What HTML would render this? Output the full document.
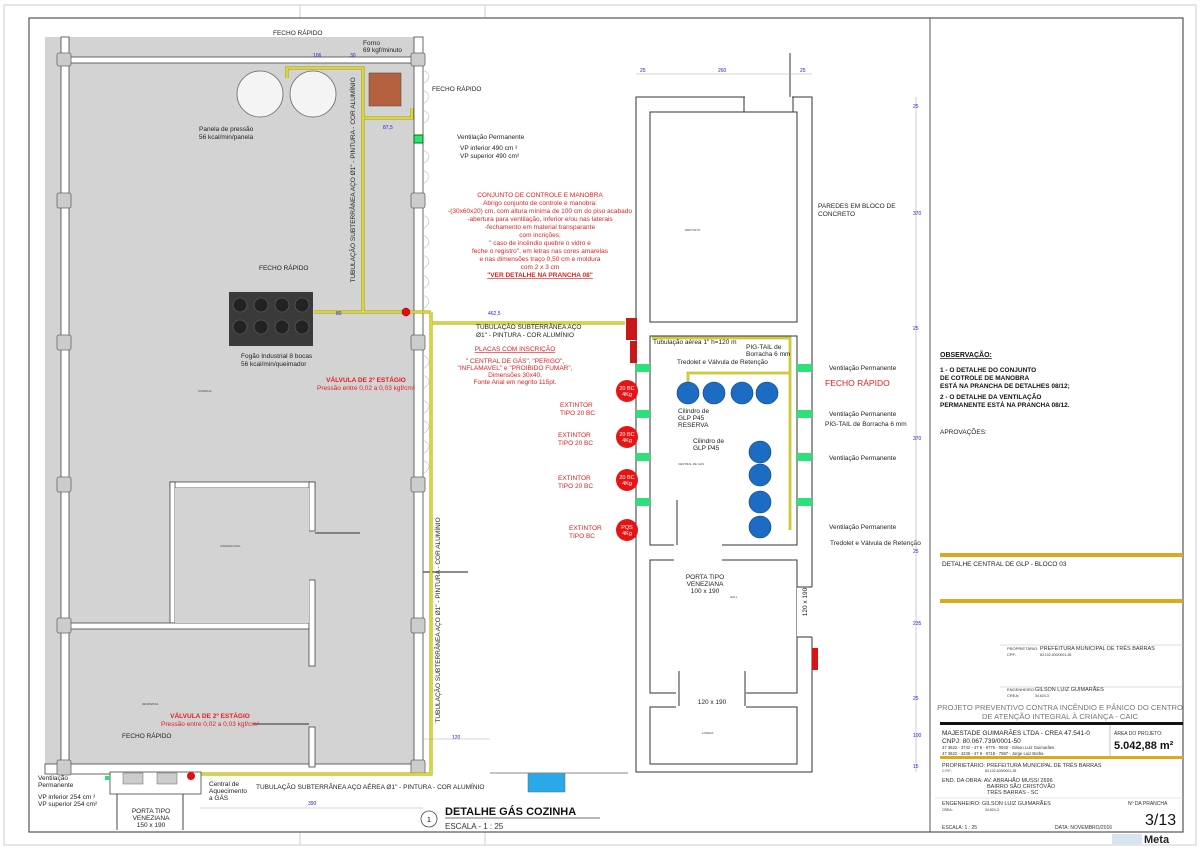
<!DOCTYPE html>
<html><head><meta charset="utf-8"><style>
html,body{margin:0;padding:0;background:#fff;}
svg{display:block;font-family:"Liberation Sans",sans-serif;}
.s{font-size:6.5px;fill:#222}
.r{font-size:6.5px;fill:#e02020}
.b{font-size:5px;fill:#2020d0}
</style></head><body>
<svg width="1200" height="850" viewBox="0 0 1200 850" xmlns="http://www.w3.org/2000/svg">
<rect width="1200" height="850" fill="#fff"/>
<rect x="4" y="5" width="1192" height="840" fill="none" stroke="#ccc" stroke-width="1"/>
<line x1="300" y1="5" x2="300" y2="18" stroke="#ccc"/><line x1="485" y1="5" x2="485" y2="18" stroke="#ccc"/>
<line x1="300" y1="832" x2="300" y2="845" stroke="#ccc"/><line x1="485" y1="832" x2="485" y2="845" stroke="#ccc"/>
<rect x="29" y="18" width="1154" height="814" fill="none" stroke="#555" stroke-width="1.2"/>
<line x1="930" y1="18" x2="930" y2="832" stroke="#555" stroke-width="1"/>

<rect x="45" y="37" width="369" height="731" fill="#d3d3d3"/>
<g fill="#fff" stroke="#444" stroke-width="0.8">
<rect x="61" y="37" width="8" height="737"/>
<rect x="414" y="37" width="9" height="737"/>
<rect x="61" y="57" width="362" height="6"/>
<rect x="45" y="764" width="378" height="10"/>
<rect x="170" y="482" width="145" height="6"/>
<rect x="170" y="482" width="5" height="141"/>
<rect x="69" y="623" width="240" height="6"/>
<rect x="309" y="482" width="6" height="49"/>
<rect x="309" y="580" width="6" height="86"/>
<rect x="309" y="727" width="6" height="40"/>
</g>
<rect x="175" y="488" width="134" height="135" fill="#d3d3d3"/>
<line x1="315" y1="533" x2="360" y2="533" stroke="#666" stroke-width="1.5"/>
<line x1="423" y1="572" x2="468" y2="572" stroke="#666" stroke-width="1.5"/>
<line x1="253" y1="724" x2="309" y2="724" stroke="#666" stroke-width="1.5"/>
<g fill="none" stroke="#bbb" stroke-width="0.6">
<path d="M423 70 q12 6 0 14"/><path d="M423 90 q12 6 0 14"/><path d="M423 110 q12 6 0 14"/><path d="M423 150 q12 6 0 14"/><path d="M423 170 q12 6 0 14"/><path d="M423 215 q12 6 0 14"/><path d="M423 235 q12 6 0 14"/><path d="M423 255 q12 6 0 14"/><path d="M423 275 q12 6 0 14"/><path d="M423 295 q12 6 0 14"/><path d="M423 355 q12 6 0 14"/><path d="M423 375 q12 6 0 14"/><path d="M423 400 q12 6 0 14"/><path d="M423 420 q12 6 0 14"/><path d="M423 440 q12 6 0 14"/><path d="M423 460 q12 6 0 14"/>
</g>
<g fill="#ccc" stroke="#666" stroke-width="0.8">
<rect x="57" y="53" width="14" height="13" rx="2"/><rect x="411" y="53" width="14" height="13" rx="2"/>
<rect x="57" y="193" width="14" height="15" rx="2"/><rect x="411" y="193" width="14" height="15" rx="2"/>
<rect x="57" y="335" width="14" height="15" rx="2"/><rect x="411" y="335" width="14" height="15" rx="2"/>
<rect x="57" y="477" width="14" height="15" rx="2"/><rect x="411" y="477" width="14" height="15" rx="2"/>
<rect x="57" y="618" width="14" height="15" rx="2"/><rect x="411" y="618" width="14" height="15" rx="2"/>
<rect x="57" y="760" width="14" height="15" rx="2"/><rect x="411" y="760" width="14" height="15" rx="2"/>
</g>
<circle cx="260" cy="94" r="23" fill="#f4f4f4" stroke="#666" stroke-width="0.8"/>
<circle cx="313" cy="94" r="23" fill="#f4f4f4" stroke="#666" stroke-width="0.8"/>
<rect x="369" y="73" width="32" height="33" fill="#b5603e" stroke="#555" stroke-width="0.6"/>
<rect x="229" y="292" width="84" height="54" fill="#3a3a3a"/>
<g fill="#222" stroke="#666" stroke-width="0.6">
<circle cx="240" cy="305" r="7"/><circle cx="261" cy="305" r="7"/><circle cx="282" cy="305" r="7"/><circle cx="302" cy="305" r="7"/>
<circle cx="240" cy="327" r="7"/><circle cx="261" cy="327" r="7"/><circle cx="282" cy="327" r="7"/><circle cx="302" cy="327" r="7"/>
</g>
<g fill="none" stroke="#a5a000" stroke-width="3">
<polyline points="287,78 287,68 363,68 363,312"/>
<polyline points="363,118 412,118 412,108"/>
<polyline points="314,312 431,312"/>
<polyline points="431,312 431,774 200,774"/>
<polyline points="431,323 625,323"/>
</g>
<g fill="none" stroke="#e8e84a" stroke-width="1.5">
<polyline points="287,78 287,68 363,68 363,312"/>
<polyline points="363,118 412,118 412,108"/>
<polyline points="314,312 431,312"/>
<polyline points="431,312 431,774 200,774"/>
<polyline points="431,323 625,323"/>
</g>
<circle cx="406" cy="312" r="4" fill="#e01010" stroke="#800" stroke-width="0.5"/>
<rect x="414" y="135" width="9" height="8" fill="#2ee07a" stroke="#070"/>
<rect x="110" y="772" width="91" height="22" fill="#fff" stroke="#444" stroke-width="0.8"/>
<rect x="123" y="773" width="20" height="11" fill="#ccc" stroke="#666" stroke-width="0.5"/>
<rect x="157" y="773" width="20" height="11" fill="#ccc" stroke="#666" stroke-width="0.5"/>
<circle cx="191" cy="776" r="4" fill="#e01010"/>
<rect x="105" y="776" width="5" height="4" fill="#2ee07a"/>
<line x1="117" y1="794" x2="117" y2="830" stroke="#444"/><line x1="183" y1="794" x2="183" y2="830" stroke="#444"/>
<rect x="528" y="773" width="37" height="19" fill="#29a9e8" stroke="#666" stroke-width="0.5"/>
<line x1="490" y1="773" x2="628" y2="773" stroke="#888"/>

<text x="273" y="35" class="s">FECHO RÁPIDO</text>
<text x="363" y="45" class="s">Forno</text><text x="363" y="52" class="s">69 kgf/minuto</text>
<text x="432" y="91" class="s">FECHO RÁPIDO</text>
<text x="199" y="131" class="s">Panela de pressão</text><text x="199" y="139" class="s">56 kcal/min/panela</text>
<text x="457" y="139" class="s">Ventilação Permanente</text>
<text x="460" y="150" class="s">VP inferior 490 cm ²</text><text x="460" y="158" class="s">VP superior 490 cm²</text>
<text x="259" y="270" class="s">FECHO RÁPIDO</text>
<text x="241" y="358" class="s">Fogão Industrial 8 bocas</text><text x="241" y="366" class="s">56 kcal/min/queimador</text>
<text x="366" y="382" class="r" text-anchor="middle" font-weight="bold">VÁLVULA DE  2º ESTÁGIO</text>
<text x="366" y="390" class="r" text-anchor="middle">Pressão entre 0,02 a 0,03 kgf/cm²</text>
<text x="210" y="718" class="r" text-anchor="middle" font-weight="bold">VÁLVULA DE  2º ESTÁGIO</text>
<text x="210" y="726" class="r" text-anchor="middle">Pressão entre 0,02 a 0,03 kgf/cm²</text>
<text x="122" y="738" class="s">FECHO RÁPIDO</text>
<text x="38" y="780" class="s">Ventilação</text><text x="38" y="787" class="s">Permanente</text>
<text x="38" y="799" class="s">VP inferior 254 cm ²</text><text x="38" y="806" class="s">VP superior 254 cm²</text>
<text x="209" y="786" class="s">Central de</text><text x="209" y="793" class="s">Aquecimento</text><text x="209" y="800" class="s">a GÁS</text>
<text x="256" y="789" class="s">TUBULAÇÃO SUBTERRÂNEA AÇO  AÉREA Ø1" - PINTURA - COR ALUMÍNIO</text>
<text x="151" y="813" class="s" text-anchor="middle">PORTA TIPO</text><text x="151" y="820" class="s" text-anchor="middle">VENEZIANA</text><text x="151" y="827" class="s" text-anchor="middle">150 x 190</text>
<text x="355" y="180" class="s" transform="rotate(-90 355 180)" text-anchor="middle">TUBULAÇÃO SUBTERRÂNEA AÇO   Ø1" - PINTURA - COR ALUMÍNIO</text>
<text x="440" y="620" class="s" transform="rotate(-90 440 620)" text-anchor="middle">TUBULAÇÃO SUBTERRÂNEA AÇO   Ø1" - PINTURA - COR ALUMÍNIO</text>
<text x="198" y="392" font-size="3" fill="#444">COZINHA</text>
<text x="220" y="547" font-size="3" fill="#444">CÂMARA FRIA</text>
<text x="142" y="705" font-size="3" fill="#444">DESPENSA</text>
<text x="313" y="57" class="b">106</text><text x="350" y="57" class="b">30</text><text x="383" y="129" class="b">87,5</text>
<text x="336" y="315" class="b">80</text><text x="488" y="315" class="b">462,5</text><text x="452" y="739" class="b">120</text><text x="308" y="805" class="b">390</text>
<line x1="200" y1="808" x2="423" y2="808" stroke="#aab" stroke-width="0.5"/>
<line x1="423" y1="739" x2="490" y2="739" stroke="#aab" stroke-width="0.5"/>
<circle cx="429" cy="819" r="8" fill="#fff" stroke="#444" stroke-width="0.8"/>
<text x="429" y="822" font-size="7" text-anchor="middle">1</text>
<text x="445" y="815" font-size="11" font-weight="bold" fill="#111">DETALHE GÁS  COZINHA</text>
<line x1="445" y1="818" x2="600" y2="818" stroke="#444" stroke-width="0.7"/>
<text x="445" y="829" font-size="8" fill="#333">ESCALA - 1 : 25</text>

<g text-anchor="middle">
<text x="540" y="197" class="r">CONJUNTO DE CONTROLE E MANOBRA</text>
<text x="540" y="205" class="r">Abrigo conjunto de controle e manobra:</text>
<text x="540" y="213" class="r">-(30x60x20) cm, com altura mínima de 100 cm do piso acabado</text>
<text x="540" y="221" class="r">-abertura para ventilação, inferior e/ou nas laterais</text>
<text x="540" y="229" class="r">-fechamento em material transparante</text>
<text x="540" y="237" class="r">com incrições:</text>
<text x="540" y="245" class="r">" caso de incêndio quebre o vidro e</text>
<text x="540" y="253" class="r">feche o registro", em letras nas cores amarelas</text>
<text x="540" y="261" class="r">e nas dimensões traço 0,50 cm e moldura</text>
<text x="540" y="269" class="r">com 2 x 3 cm</text>
<text x="540" y="277" class="r" font-weight="bold" text-decoration="underline">"VER DETALHE NA PRANCHA 08"</text>
</g>
<text x="476" y="329" class="s">TUBULAÇÃO SUBTERRÂNEA AÇO</text>
<text x="476" y="337" class="s">Ø1" - PINTURA - COR ALUMÍNIO</text>
<g text-anchor="middle">
<text x="515" y="351" class="r" text-decoration="underline">PLACAS COM INSCRIÇÃO</text>
<text x="515" y="363" class="r">" CENTRAL DE GÁS", "PERIGO",</text>
<text x="515" y="370" class="r">"INFLAMAVEL" e "PROIBIDO FUMAR",</text>
<text x="515" y="377" class="r">Dimensões 30x40,</text>
<text x="515" y="384" class="r">Fonte Arial em negrito 115pt.</text>
<text x="714" y="625" class="r" text-decoration="underline">PLACAS COM INSCRIÇÃO</text>
<text x="714" y="638" class="r">" CENTRAL DE GÁS", "PERIGO",</text>
<text x="714" y="645" class="r">"INFLAMAVEL" e "PROIBIDO FUMAR",</text>
<text x="714" y="652" class="r">Dimensões 30x40,</text>
<text x="714" y="659" class="r">Fonte Arial em negrito 115pt.</text>
</g>
<text x="560" y="407" class="r">EXTINTOR</text><text x="560" y="415" class="r">TIPO 20 BC</text>
<text x="558" y="437" class="r">EXTINTOR</text><text x="558" y="445" class="r">TIPO  20 BC</text>
<text x="558" y="480" class="r">EXTINTOR</text><text x="558" y="488" class="r">TIPO  20 BC</text>
<text x="569" y="530" class="r">EXTINTOR</text><text x="569" y="538" class="r">TIPO BC</text>

<rect x="636" y="97" width="176" height="675" fill="#fff" stroke="#333" stroke-width="1"/>
<g fill="#fff" stroke="#333" stroke-width="1">
<rect x="650" y="112" width="147" height="210"/>
<rect x="650" y="336" width="147" height="209"/>
<rect x="650" y="560" width="147" height="133"/>
<rect x="650" y="707" width="147" height="57"/>
</g>
<rect x="745" y="95" width="47" height="16.5" fill="#fff"/>
<line x1="744" y1="97" x2="744" y2="112" stroke="#333"/><line x1="793" y1="97" x2="793" y2="112" stroke="#333"/>
<line x1="790" y1="53" x2="790" y2="97" stroke="#555" stroke-width="1.2"/>
<rect x="797" y="587" width="16" height="50" fill="#fff"/>
<line x1="797" y1="587" x2="812" y2="587" stroke="#333"/><line x1="797" y1="637" x2="812" y2="637" stroke="#333"/>
<rect x="674" y="544" width="48" height="17" fill="#fff"/>
<rect x="676" y="692" width="70" height="16" fill="#fff"/>
<line x1="679" y1="671" x2="679" y2="706" stroke="#555" stroke-width="1.2"/><line x1="745" y1="671" x2="745" y2="706" stroke="#555" stroke-width="1.2"/>
<line x1="677" y1="500" x2="677" y2="545" stroke="#555" stroke-width="1.2"/>
<rect x="812" y="648" width="6" height="22" fill="#d11"/>
<rect x="626" y="318" width="11" height="22" fill="#c81818"/>
<rect x="630" y="341" width="7" height="22" fill="#c81818"/>
<g fill="#2ee07a">
<rect x="636" y="364" width="14" height="8"/><rect x="636" y="410" width="14" height="8"/><rect x="636" y="453" width="14" height="8"/><rect x="636" y="498" width="14" height="8"/>
<rect x="797" y="364" width="15" height="8"/><rect x="797" y="410" width="15" height="8"/><rect x="797" y="453" width="15" height="8"/><rect x="797" y="498" width="15" height="8"/>
</g>
<g fill="#e81414"><circle cx="627" cy="391" r="11"/><circle cx="627" cy="437" r="11"/><circle cx="627" cy="480" r="11"/><circle cx="627" cy="530" r="11"/></g>
<g fill="#fff" font-size="5.5" text-anchor="middle">
<text x="627" y="390">20 BC</text><text x="627" y="396">4Kg</text>
<text x="627" y="436">20 BC</text><text x="627" y="442">4Kg</text>
<text x="627" y="479">20 BC</text><text x="627" y="485">4Kg</text>
<text x="627" y="529">PQS</text><text x="627" y="535">4Kg</text>
</g>
<g fill="none" stroke="#a5a000" stroke-width="2.5"><polyline points="652,338 790,338 790,530"/><polyline points="688,387 688,373 790,373"/></g>
<g fill="none" stroke="#e8e84a" stroke-width="1.2"><polyline points="652,338 790,338 790,530"/><polyline points="688,387 688,373 790,373"/></g>
<g fill="#1c6cc4" stroke="#0d3c78" stroke-width="0.6">
<circle cx="688" cy="393" r="11"/><circle cx="714" cy="393" r="11"/><circle cx="742" cy="393" r="11"/><circle cx="767" cy="393" r="11"/>
<circle cx="760" cy="452" r="11"/><circle cx="760" cy="475" r="11"/><circle cx="760" cy="502" r="11"/><circle cx="760" cy="527" r="11"/>
</g>
<text x="653" y="344" class="s" font-size="6">Tubulação aérea 1" h=120 m</text>
<text x="746" y="349" class="s">PIG-TAIL de</text><text x="746" y="356" class="s">Borracha 6 mm</text>
<text x="677" y="364" class="s">Tredolet e Válvula de Retenção</text>
<text x="678" y="413" class="s">Cilindro de</text><text x="678" y="420" class="s">GLP P45</text><text x="678" y="427" class="s">RESERVA</text>
<text x="693" y="443" class="s">Cilindro de</text><text x="693" y="450" class="s">GLP P45</text>
<text x="678" y="465" font-size="3" fill="#444">CENTRAL DE GÁS</text>
<text x="685" y="231" font-size="3" fill="#444">DEPOSITO</text>
<text x="730" y="598" font-size="3" fill="#444">HALL</text>
<text x="702" y="734" font-size="3" fill="#444">LIXEIRA</text>
<text x="829" y="370" class="s">Ventilação Permanente</text>
<text x="825" y="386" font-size="8.5" fill="#e02020">FECHO RÁPIDO</text>
<text x="829" y="416" class="s">Ventilação Permanente</text>
<text x="825" y="426" class="s">PIG-TAIL de Borracha 6 mm</text>
<text x="829" y="460" class="s">Ventilação Permanente</text>
<text x="829" y="529" class="s">Ventilação Permanente</text>
<text x="830" y="545" class="s">Tredolet e Válvula de Retenção</text>
<text x="818" y="208" class="s">PAREDES EM BLOCO DE</text><text x="818" y="216" class="s">CONCRETO</text>
<text x="705" y="579" class="s" text-anchor="middle">PORTA TIPO</text><text x="705" y="586" class="s" text-anchor="middle">VENEZIANA</text><text x="705" y="593" class="s" text-anchor="middle">100 x 190</text>
<text x="712" y="704" class="s" text-anchor="middle">120 x 190</text>
<text x="807" y="602" class="s" transform="rotate(-90 807 602)" text-anchor="middle">120 x 190</text>
<line x1="916" y1="97" x2="916" y2="772" stroke="#aab" stroke-width="0.6"/>
<line x1="636" y1="74" x2="812" y2="74" stroke="#aab" stroke-width="0.6"/>
<text x="640" y="72" class="b">25</text><text x="718" y="72" class="b">260</text><text x="800" y="72" class="b">25</text>
<g class="b"><text x="913" y="108">25</text><text x="913" y="215">370</text><text x="913" y="330">25</text><text x="913" y="440">370</text><text x="913" y="553">25</text><text x="913" y="625">235</text><text x="913" y="700">25</text><text x="913" y="737">100</text><text x="913" y="768">15</text></g>

<text x="940" y="357" font-size="7" font-weight="bold" text-decoration="underline" fill="#111">OBSERVAÇÃO:</text>
<text x="940" y="372" font-size="6.5" font-weight="bold" fill="#111">1 - O DETALHE DO CONJUNTO</text>
<text x="940" y="380" font-size="6.5" font-weight="bold" fill="#111">DE COTROLE DE MANOBRA</text>
<text x="940" y="388" font-size="6.5" font-weight="bold" fill="#111">ESTÁ NA PRANCHA DE DETALHES 08/12;</text>
<text x="940" y="399" font-size="6.5" font-weight="bold" fill="#111">2 - O DETALHE DA VENTILAÇÃO</text>
<text x="940" y="407" font-size="6.5" font-weight="bold" fill="#111">PERMANENTE ESTÁ NA PRANCHA 08/12.</text>
<text x="940" y="434" class="s" font-size="5.5">APROVAÇÕES:</text>
<rect x="940" y="553" width="243" height="4" fill="#d9a91e"/>
<text x="942" y="566" class="s">DETALHE CENTRAL DE GLP - BLOCO 03</text>
<rect x="940" y="599" width="243" height="4" fill="#d9a91e"/>
<line x1="1000" y1="645" x2="1183" y2="645" stroke="#bbb" stroke-width="0.6"/>
<text x="1007" y="650" font-size="4" fill="#333">PROPRIETÁRIO:</text><text x="1040" y="650" font-size="5.5" fill="#333">PREFEITURA MUNICIPAL DE TRÊS BARRAS</text>
<text x="1007" y="656" font-size="4" fill="#333">CPF:</text><text x="1040" y="656" font-size="3.5" fill="#333">83.102.400/0001-35</text>
<line x1="1000" y1="687" x2="1183" y2="687" stroke="#bbb" stroke-width="0.6"/>
<text x="1007" y="691" font-size="4" fill="#333">ENGENHEIRO:</text><text x="1035" y="691" font-size="5.5" fill="#333">GILSON LUIZ GUIMARÃES</text>
<text x="1007" y="697" font-size="4" fill="#333">CREA:</text><text x="1035" y="697" font-size="3.5" fill="#333">34.624-3</text>
<text x="1060" y="710" font-size="7.6" fill="#777" text-anchor="middle">PROJETO PREVENTIVO CONTRA INCÊNDIO E PÂNICO  DO CENTRO</text>
<text x="1060" y="719" font-size="7.6" fill="#777" text-anchor="middle">DE ATENÇÃO INTEGRAL À CRIANÇA - CAIC</text>
<rect x="940" y="722" width="243" height="3" fill="#111"/>
<line x1="1110" y1="725" x2="1110" y2="756" stroke="#999" stroke-width="0.6"/>
<text x="942" y="735" font-size="6.5" fill="#222">MAJESTADE GUIMARÃES LTDA - CREA 47.541-0</text>
<text x="942" y="743" font-size="6.5" fill="#222">CNPJ: 80.067.739/0001-50</text>
<text x="942" y="749" font-size="4.2" fill="#333">47 3622 - 3742  -  47 9 - 9775 - 0942  -  Gilson Luiz Guimarães</text>
<text x="942" y="755" font-size="4.2" fill="#333">47 3622 - 4236  -  47 9 - 9718 - 7987  -  Jorge Luiz Borba</text>
<text x="1114" y="735" font-size="5" fill="#333">ÁREA DO PROJETO:</text>
<text x="1114" y="749" font-size="11" font-weight="bold" fill="#111">5.042,88 m²</text>
<rect x="940" y="756" width="243" height="3" fill="#d9a91e"/>
<text x="942" y="767" font-size="5.5" fill="#333">PROPRIETÁRIO:  PREFEITURA MUNICIPAL DE TRÊS BARRAS</text>
<text x="942" y="772" font-size="3.5" fill="#333">C.P.F.:</text><text x="985" y="772" font-size="3.5" fill="#333">83.102.400/0001-35</text>
<text x="942" y="782" font-size="5.5" fill="#333">END. DA OBRA:  AV. ABRAHÃO MUSSI 2696</text>
<text x="987" y="788" font-size="5.5" fill="#333">BAIRRO SÃO CRISTÓVÃO</text>
<text x="987" y="794" font-size="5.5" fill="#333">TRÊS BARRAS - SC</text>
<line x1="935" y1="798" x2="1183" y2="798" stroke="#ccc" stroke-width="0.6"/>
<text x="942" y="805" font-size="5.5" fill="#333">ENGENHEIRO: GILSON LUIZ GUIMARÃES</text>
<text x="942" y="811" font-size="3.5" fill="#333">CREA:</text><text x="985" y="811" font-size="3.5" fill="#333">34.624-3</text>
<text x="1128" y="805" font-size="5" fill="#333">Nº DA PRANCHA</text>
<text x="1145" y="825" font-size="16" fill="#111">3/13</text>
<text x="942" y="829" font-size="5" fill="#333">ESCALA:  1 : 25</text>
<text x="1055" y="829" font-size="5" fill="#333">DATA:  NOVEMBRO/2016</text>
<rect x="1112" y="834" width="30" height="10" fill="#d8e4f0"/>
<text x="1144" y="843" font-size="11" font-weight="bold" fill="#222">Meta</text>
</svg>
</body></html>
